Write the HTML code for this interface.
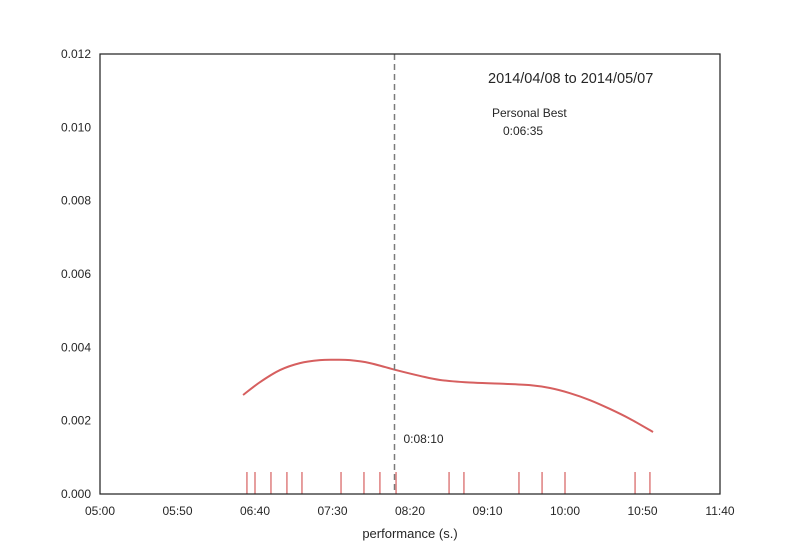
<!DOCTYPE html>
<html><head><meta charset="utf-8"><style>
body{margin:0;background:#fff;}
svg{font-family:"Liberation Sans",sans-serif;display:block;}
</style></head><body>
<svg id="chart" width="800" height="550">
<rect x="0" y="0" width="800" height="550" fill="#fff"/>
<g id="ticks"></g>
<g id="marks"></g>
<rect x="100" y="54" width="620" height="440" fill="none" stroke="#262626" stroke-width="1.25"/>
<text x="410" y="538" font-size="13" fill="#262626" text-anchor="middle">performance (s.)</text>
<text x="488" y="83" font-size="14.5" fill="#262626">2014/04/08 to 2014/05/07</text>
<text x="492" y="117" font-size="12" fill="#262626">Personal Best</text>
<text x="503" y="135" font-size="12" fill="#262626">0:06:35</text>
</svg>
<script>
const xTickSeconds=[300,350,400,450,500,550,600,650,700];
const xTickLabels=["05:00","05:50","06:40","07:30","08:20","09:10","10:00","10:50","11:40"];
const yTickValues=[0,0.002,0.004,0.006,0.008,0.010,0.012];
const yTickLabels=["0.000","0.002","0.004","0.006","0.008","0.010","0.012"];
const rugSeconds=[394.8,400,410.3,420.6,430.3,455.5,470.3,480.6,491,525.2,534.8,570.3,585.2,600,645.2,654.8];
const curveSeconds=[392.3,403.2,416.1,429.0,441.9,451.6,461.3,474.2,491.0,506.5,519.4,538.7,558.1,577.4,590.3,603.2,616.1,629.0,641.9,656.8];
const curveDensity=[0.00270,0.00305,0.00338,0.00357,0.00365,0.00366,0.00365,0.00357,0.00338,0.00322,0.00311,0.00304,0.00301,0.00297,0.00289,0.00275,0.00256,0.00232,0.00205,0.00169];
const markerSeconds=490;
const markerLabel="0:08:10";

const NS="http://www.w3.org/2000/svg";
const X=s=>100+(s-300)*620/400;
const Y=v=>494-v*440/0.012;
function mk(t,a,p){const e=document.createElementNS(NS,t);for(const k in a)e.setAttribute(k,a[k]);p.appendChild(e);return e;}
const tk=document.getElementById('ticks'),mg=document.getElementById('marks');
xTickSeconds.forEach((s,i)=>{
 const t=mk('text',{x:X(s),y:515,'font-size':12,fill:'#262626','text-anchor':'middle'},tk);
 t.textContent=xTickLabels[i];
 
 
});
yTickValues.forEach((v,i)=>{
 const t=mk('text',{x:91,y:Y(v)+4,'font-size':12,fill:'#262626','text-anchor':'end'},tk);
 t.textContent=yTickLabels[i];
 
 
});
rugSeconds.forEach(s=>{
 const l=mk('line',{x1:X(s),x2:X(s),y1:472,y2:494,stroke:'#d65f5f','stroke-width':1.2},mg);
 
 
});
// smooth curve via Catmull-Rom
const pts=curveSeconds.map((s,i)=>[X(s),Y(curveDensity[i])]);
let d='M'+pts[0][0]+','+pts[0][1];
for(let i=0;i<pts.length-1;i++){
 const p0=pts[Math.max(0,i-1)],p1=pts[i],p2=pts[i+1],p3=pts[Math.min(pts.length-1,i+2)];
 const c1=[p1[0]+(p2[0]-p0[0])/6,p1[1]+(p2[1]-p0[1])/6],c2=[p2[0]-(p3[0]-p1[0])/6,p2[1]-(p3[1]-p1[1])/6];
 d+=' C'+c1+' '+c2+' '+p2;
}
const c=mk('path',{d:d,fill:'none',stroke:'#d65f5f','stroke-width':2},mg);


const ml=mk('line',{x1:X(markerSeconds),x2:X(markerSeconds),y1:54,y2:494,stroke:'#7a7a7a','stroke-width':1.5,'stroke-dasharray':'6,4'},mg);


const mt=mk('text',{x:X(markerSeconds)+9,y:443,'font-size':12,fill:'#262626'},mg);
mt.textContent=markerLabel;


</script>
</body></html>
